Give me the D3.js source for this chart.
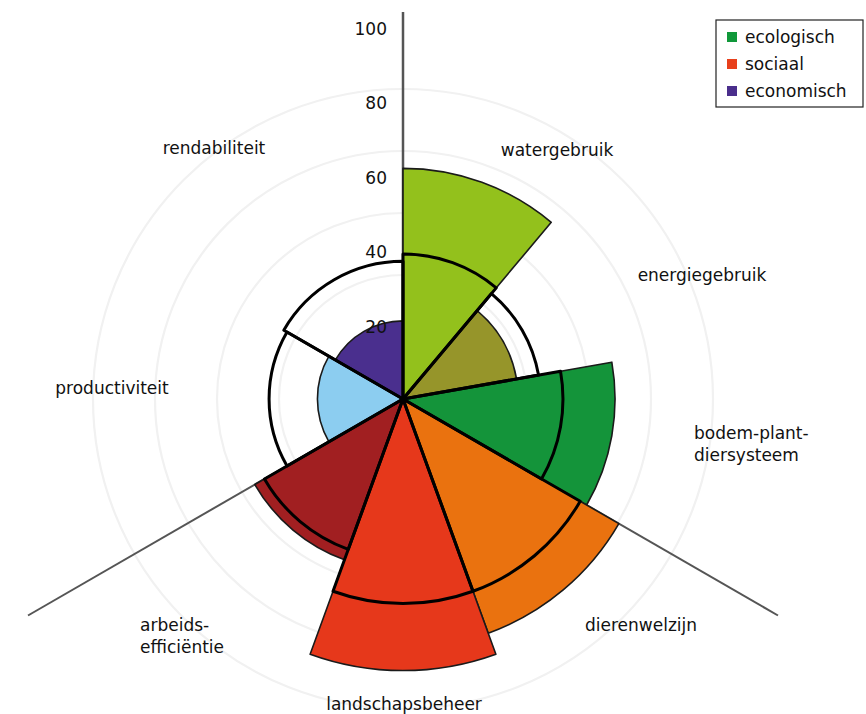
<!DOCTYPE html>
<html>
<head>
<meta charset="utf-8">
<script src="https://cdn.jsdelivr.net/npm/d3@7"></script>
<style>
  html, body { margin: 0; padding: 0; background: #fff; }
  svg { display: block; }
  text { font-family: "DejaVu Sans", "Liberation Sans", sans-serif; fill: #111; }
</style>
</head>
<body>
<script>
// ---- data ----
const categories = ["watergebruik", "energiegebruik", "bodem-plant-diersysteem",
  "dierenwelzijn", "landschapsbeheer", "arbeids-efficiëntie",
  "productiviteit", "rendabiliteit"];
const categoryLabels = [["watergebruik"], ["energiegebruik"], ["bodem-plant-", "diersysteem"],
  ["dierenwelzijn"], ["landschapsbeheer"], ["arbeids-", "efficiëntie"],
  ["productiviteit"], ["rendabiliteit"]];
const groupOf = ["ecologisch", "ecologisch", "ecologisch",
  "sociaal", "sociaal", "sociaal",
  "economisch", "economisch"];
const values = [62, 31, 57, 67, 73, 46, 23, 21];
const referenceValues = [39, 37, 43, 55, 55, 43, 36, 37];
const groups = ["ecologisch", "sociaal", "economisch"];
const radialTicks = [20, 40, 60, 80, 100];
const gridValues = [100/6, 200/6, 300/6, 400/6, 500/6];

// ---- styles / layout ----
const W = 866, H = 714;
const cx = 403, cy = 399, R = 372;
const sectorColors = ["#93c11c", "#96952a", "#14943a", "#ea720f",
  "#e6381b", "#a11f21", "#8ccdf0", "#4a2f8e"];
const groupColors = {"ecologisch": "#10983a", "sociaal": "#e8401c", "economisch": "#4a2e8c"};
// label anchors (x, y of first line, anchor)
const labelLayout = [
  {x: 557, y: 150, a: "middle"},
  {x: 702, y: 275, a: "middle"},
  {x: 694, y: 433, a: "start"},
  {x: 641, y: 625, a: "middle"},
  {x: 404, y: 704, a: "middle"},
  {x: 140, y: 625, a: "start"},
  {x: 112, y: 388, a: "middle"},
  {x: 214, y: 148, a: "middle"}
];

const svg = d3.select("body").append("svg")
  .attr("width", W).attr("height", H);

const r = d3.scaleLinear().domain([0, 100]).range([0, R]);

// angular layout: each group gets 1/3 of the circle, split equally among its members
const groupAngle = d3.scaleBand().domain(groups).range([0, 2 * Math.PI]).padding(0);
const sectors = categories.map((c, i) => {
  const g = groupOf[i];
  const members = categories.filter((_, j) => groupOf[j] === g);
  const k = members.indexOf(c);
  const g0 = groupAngle(g), gw = groupAngle.bandwidth();
  return {
    name: c, lines: categoryLabels[i], group: g, value: values[i], ref: referenceValues[i],
    start: g0 + gw * k / members.length,
    end: g0 + gw * (k + 1) / members.length,
    color: sectorColors[i], layout: labelLayout[i]
  };
});

const g = svg.append("g").attr("transform", `translate(${cx},${cy})`);

// faint grid circles
g.selectAll("circle.grid").data(gridValues).join("circle")
  .attr("class", "grid")
  .attr("r", d => r(d))
  .attr("fill", "none")
  .attr("stroke", "#f1f1f1")
  .attr("stroke-width", 2.2);

// axis lines (group boundaries)
const axisLen = [387, 433, 433];
groups.forEach((gr, i) => {
  const a = groupAngle(gr);
  g.append("line")
    .attr("x1", 0).attr("y1", 0)
    .attr("x2", axisLen[i] * Math.sin(a))
    .attr("y2", -axisLen[i] * Math.cos(a))
    .attr("stroke", "#555")
    .attr("stroke-width", i === 0 ? 2.5 : 2);
});

const arc = d3.arc().innerRadius(0);

// filled wedges
g.selectAll("path.fill").data(sectors).join("path")
  .attr("class", "fill")
  .attr("d", d => arc({startAngle: d.start, endAngle: d.end, outerRadius: r(d.value)}))
  .attr("fill", d => d.color)
  .attr("stroke", "#1a1a1a")
  .attr("stroke-width", 1.6)
  .attr("stroke-linejoin", "round");

// reference outlines
g.selectAll("path.ref").data(sectors).join("path")
  .attr("class", "ref")
  .attr("d", d => arc({startAngle: d.start, endAngle: d.end, outerRadius: r(d.ref)}))
  .attr("fill", "none")
  .attr("stroke", "#000")
  .attr("stroke-width", 3)
  .attr("stroke-linejoin", "round");

// radial tick labels
g.selectAll("text.tick").data(radialTicks).join("text")
  .attr("class", "tick")
  .attr("x", -16)
  .attr("y", d => -r(d) + 2)
  .attr("text-anchor", "end")
  .attr("dominant-baseline", "central")
  .attr("font-size", 17)
  .text(d => d);

// category labels
sectors.forEach(s => {
  const t = svg.append("text")
    .attr("x", s.layout.x).attr("y", s.layout.y)
    .attr("text-anchor", s.layout.a)
    .attr("dominant-baseline", "central")
    .attr("font-size", 17);
  s.lines.forEach((ln, i) => {
    t.append("tspan").attr("x", s.layout.x).attr("dy", i === 0 ? 0 : 22).text(ln);
  });
});

// legend
const lg = svg.append("g").attr("transform", "translate(716,20)");
lg.append("rect").attr("x", 0).attr("y", 0).attr("width", 147).attr("height", 87)
  .attr("fill", "#fff").attr("stroke", "#222").attr("stroke-width", 1.2);
groups.forEach((gr, i) => {
  const y = 17 + i * 27;
  lg.append("rect").attr("x", 11).attr("y", y - 5).attr("width", 10).attr("height", 10)
    .attr("fill", groupColors[gr]);
  lg.append("text").attr("x", 29).attr("y", y).attr("dominant-baseline", "central")
    .attr("font-size", 17).text(gr);
});
</script>
</body>
</html>
